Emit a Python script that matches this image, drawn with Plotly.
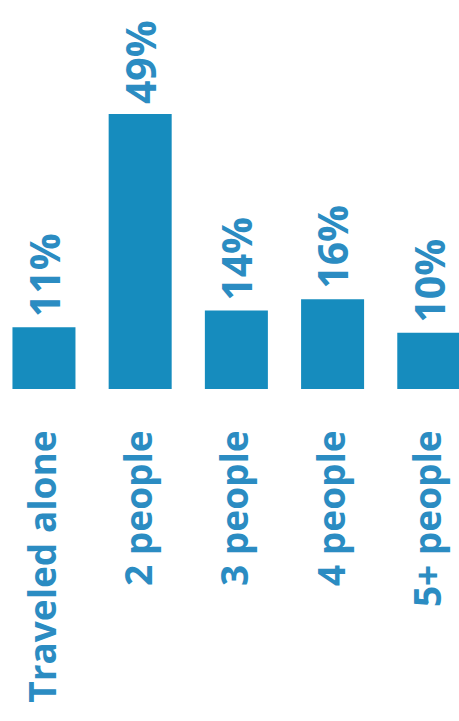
import plotly.graph_objects as go

# Travel party size shares
categories = ["Traveled alone", "2 people", "3 people", "4 people", "5+ people"]
shares = [11, 49, 14, 16, 10]
value_labels = ["11%", "49%", "14%", "16%", "10%"]

BAR_COLOR = "#168cbe"
TEXT_COLOR = "#2b8cc2"
FONT = "Open Sans"

fig = go.Figure(
    go.Bar(
        x=categories,
        y=shares,
        marker=dict(color=BAR_COLOR, line=dict(width=0)),
        hoverinfo="skip",
    )
)

# Rotated percentage labels above each bar
for cat, val, lab in zip(categories, shares, value_labels):
    fig.add_annotation(
        x=cat,
        y=val,
        text=f"<b>{lab}</b>",
        textangle=-90,
        showarrow=False,
        xanchor="center",
        yanchor="bottom",
        yshift=8,
        font=dict(family=FONT, size=41, color=TEXT_COLOR),
    )

fig.update_layout(
    width=459,
    height=721,
    margin=dict(l=0, r=0, t=0, b=332, pad=0),
    paper_bgcolor="white",
    plot_bgcolor="white",
    bargap=0.345,
    showlegend=False,
)

fig.update_xaxes(
    type="category",
    range=[-0.457, 4.314],
    tickangle=-90,
    tickfont=dict(family=FONT, size=37, color=TEXT_COLOR, weight="bold"),
    ticks="",
    ticklabelstandoff=33,
    showline=False,
    showgrid=False,
    zeroline=False,
    automargin=False,
)
fig.update_yaxes(
    range=[0, 69.3],
    visible=False,
    showgrid=False,
    zeroline=False,
    automargin=False,
)

fig.write_html("out.html")
